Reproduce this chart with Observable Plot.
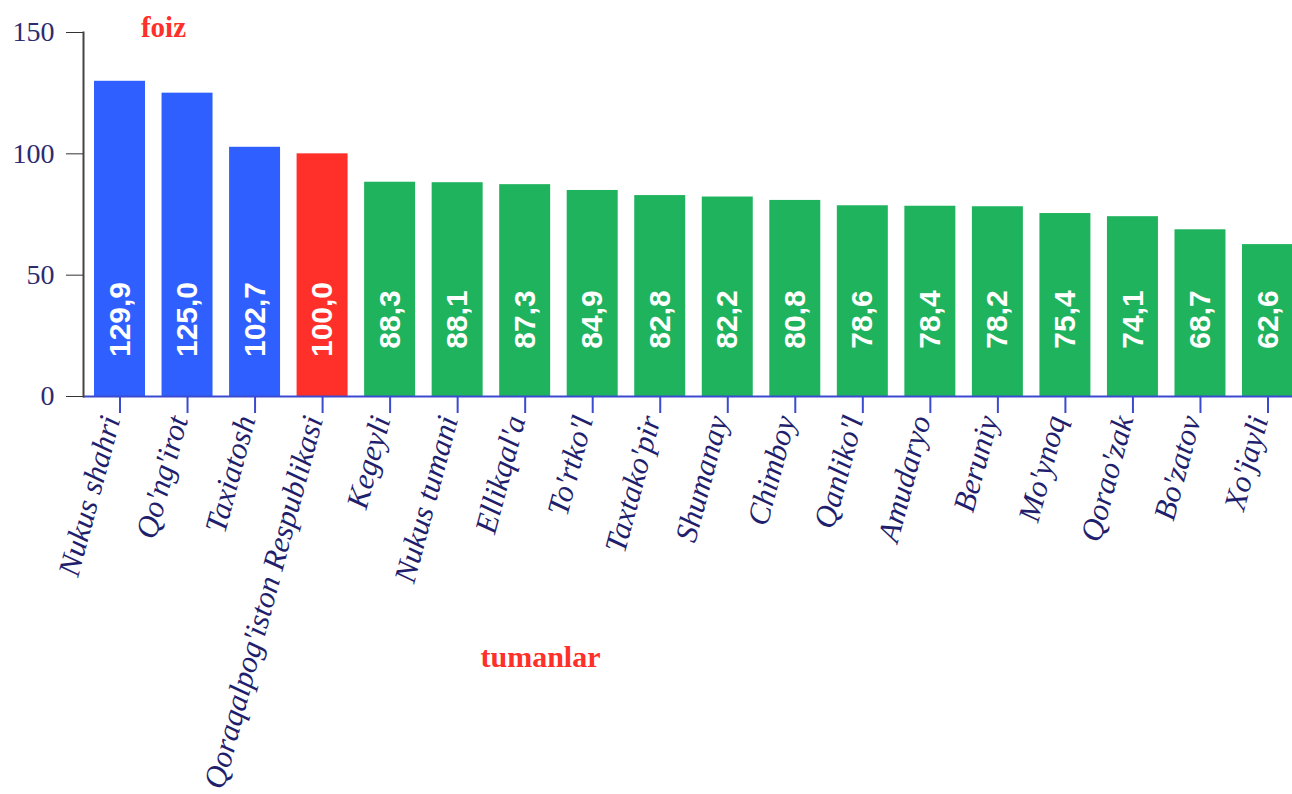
<!DOCTYPE html>
<html>
<head>
<meta charset="utf-8">
<script src="https://cdn.jsdelivr.net/npm/d3@7"></script>
<script src="https://cdn.jsdelivr.net/npm/@observablehq/plot@0.6"></script>
<style>
  html, body { margin: 0; padding: 0; background: #fff; overflow: hidden; }
  #chart { width: 1292px; height: 794px; overflow: hidden; }
</style>
</head>
<body>
<div id="chart"></div>
<script>
const districts = [
  "Nukus shahri", "Qo'ng'irot", "Taxiatosh", "Qoraqalpog'iston Respublikasi",
  "Kegeyli", "Nukus tumani", "Ellikqal'a", "To'rtko'l", "Taxtako'pir",
  "Shumanay", "Chimboy", "Qanliko'l", "Amudaryo", "Beruniy", "Mo'ynoq",
  "Qorao'zak", "Bo'zatov", "Xo'jayli"
];
const values = [129.9, 125.0, 102.7, 100.0, 88.3, 88.1, 87.3, 84.9, 82.8,
  82.2, 80.8, 78.6, 78.4, 78.2, 75.4, 74.1, 68.7, 62.6];
const yTicks = [0, 50, 100, 150];
const groups = ["yuqori", "respublika", "past"];
const yLabel = "foiz";
const xLabel = "tumanlar";

const data = districts.map((name, i) => ({
  name,
  value: values[i],
  group: values[i] > 100 ? "yuqori" : values[i] === 100 ? "respublika" : "past"
}));

const serif = "'Liberation Serif', 'Times New Roman', serif";
const sans = "'Liberation Sans', Arial, sans-serif";

const chart = Plot.plot({
  width: 1292,
  height: 794,
  marginLeft: 83,
  marginRight: -12,
  marginTop: 32,
  marginBottom: 398,
  style: { background: "white", overflow: "hidden" },
  x: { domain: districts, paddingInner: 0.245, paddingOuter: 0.163, round: false, label: null },
  y: { domain: [0, 150], label: null },
  color: { domain: groups, range: ["#2f5fff", "#ff2f2a", "#1fb35e"] },
  marks: [
    Plot.barY(data, { x: "name", y: "value", fill: "group" }),
    Plot.text(data, {
      x: "name",
      text: d => d.value.toFixed(1).replace(".", ","),
      frameAnchor: "bottom",
      dy: -77,
      rotate: -90,
      textAnchor: "middle",
      lineAnchor: "middle",
      fill: "white",
      fontSize: 30,
      fontWeight: "bold",
      fontFamily: sans
    }),
    Plot.ruleY([0], { stroke: "#3a4bd0", strokeWidth: 2 }),
    Plot.frame({ anchor: "left", stroke: "#444", strokeWidth: 2 }),
    Plot.axisY({
      ticks: yTicks,
      tickSize: 17,
      tickPadding: 12,
      tickFormat: d => String(d),
      stroke: "#333",
      fill: "#2c2c70",
      fontSize: 28,
      fontFamily: serif,
      label: null
    }),
    Plot.axisX({
      tickSize: 17,
      tickFormat: () => "",
      stroke: "#3a4bd0",
      strokeWidth: 2,
      label: null
    }),
    Plot.axisX({
      tickSize: 0,
      tickPadding: 20,
      tickRotate: -75,
      dx: -9,
      fill: "#1f1f6e",
      fontSize: 31,
      fontFamily: serif,
      fontStyle: "italic",
      label: null
    }),
    Plot.text([yLabel], {
      text: d => d,
      frameAnchor: "top-left",
      dx: 80,
      dy: -5,
      textAnchor: "middle",
      lineAnchor: "middle",
      fill: "#ff2f2a",
      fontSize: 29,
      fontWeight: "bold",
      fontFamily: serif
    }),
    Plot.text([xLabel], {
      text: d => d,
      frameAnchor: "bottom-left",
      dx: 457,
      dy: 261,
      textAnchor: "middle",
      lineAnchor: "middle",
      fill: "#ff2f2a",
      fontSize: 30,
      fontWeight: "bold",
      fontFamily: serif
    })
  ]
});
document.getElementById("chart").appendChild(chart);
</script>
</body>
</html>
